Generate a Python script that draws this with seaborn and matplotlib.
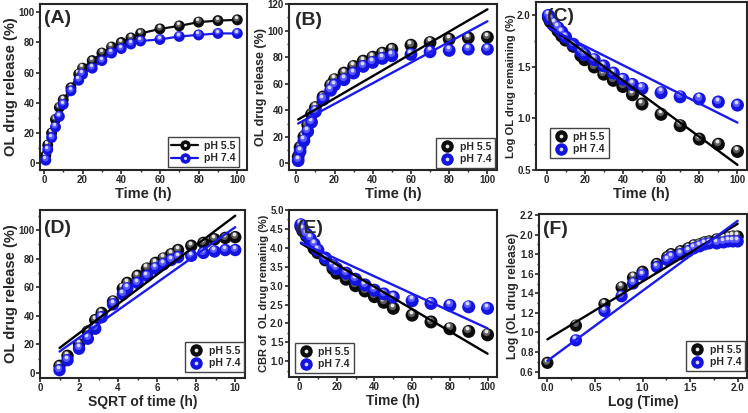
import matplotlib
matplotlib.use("Agg")
import matplotlib.pyplot as plt
import seaborn as sns
from matplotlib.lines import Line2D
from matplotlib.legend_handler import HandlerTuple
from matplotlib.ticker import AutoMinorLocator, MultipleLocator
from matplotlib.transforms import offset_copy

# release data
time_h = [1, 2, 4, 6, 8, 10, 14, 18, 20, 25, 30, 35, 40, 45, 50, 60, 70, 80, 90, 100]
sqrt_time = [1, 1.41, 2, 2.45, 2.83, 3.16, 3.74, 4.24, 4.47, 5, 5.48, 5.92, 6.32, 6.71,
             7.07, 7.75, 8.37, 8.94, 9.49, 10]
log_time = [0, 0.30, 0.60, 0.78, 0.90, 1.0, 1.15, 1.26, 1.30, 1.40, 1.48, 1.54, 1.60, 1.65,
            1.70, 1.78, 1.85, 1.90, 1.95, 2.0]

rel_55 = [5, 12, 20, 29, 37, 42, 50, 59, 63, 68, 73, 77, 80, 83, 86, 89, 91, 93.5, 94.5, 95]
rel_74 = [2, 9, 17, 24, 31, 39, 48, 55, 59, 63, 68, 73, 76, 79, 81, 82, 84, 85, 86, 86]

logrem_55 = [1.98, 1.94, 1.90, 1.85, 1.80, 1.76, 1.70, 1.61, 1.57, 1.50, 1.43, 1.37, 1.31,
             1.23, 1.14, 1.04, 0.93, 0.80, 0.75, 0.68]
logrem_74 = [2.0, 1.96, 1.92, 1.88, 1.84, 1.79, 1.72, 1.65, 1.62, 1.57, 1.51, 1.44, 1.38,
             1.33, 1.29, 1.25, 1.21, 1.19, 1.16, 1.13]

cbr_55 = [4.56, 4.45, 4.31, 4.14, 3.98, 3.87, 3.68, 3.45, 3.33, 3.17, 3.0, 2.86, 2.71, 2.56,
          2.40, 2.22, 2.04, 1.86, 1.79, 1.70]
cbr_74 = [4.61, 4.50, 4.36, 4.24, 4.10, 3.94, 3.73, 3.53, 3.45, 3.33, 3.17, 3.02, 2.88, 2.78,
          2.70, 2.60, 2.53, 2.48, 2.44, 2.40]

logrel_55 = [0.69, 1.07, 1.29, 1.46, 1.56, 1.62, 1.70, 1.77, 1.80, 1.83, 1.86, 1.89, 1.90,
             1.92, 1.93, 1.95, 1.96, 1.97, 1.98, 1.98]
logrel_74 = [0.30, 0.92, 1.22, 1.37, 1.50, 1.59, 1.67, 1.74, 1.77, 1.80, 1.83, 1.86, 1.88,
             1.90, 1.91, 1.91, 1.92, 1.93, 1.93, 1.93]

# fitted lines (end points)
fit_b_x, fit_b_55, fit_b_74 = [1, 100], [33, 116], [30, 107]
fit_c_x, fit_c_55, fit_c_74 = [1, 100], [1.90, 0.55], [1.88, 0.96]
fit_d_x, fit_d_55, fit_d_74 = [1, 10], [17.5, 110], [15, 102]
fit_e_x, fit_e_55, fit_e_74 = [1, 100], [4.12, 1.20], [4.14, 1.87]
fit_f_x, fit_f_55, fit_f_74 = [0, 2.0], [0.93, 2.11], [0.71, 2.14]

labels = ["pH 5.5", "pH 7.4"]

sns.set_style("ticks")
plt.rcParams["font.family"] = ["Liberation Sans", "DejaVu Sans"]
plt.rcParams["font.weight"] = "bold"
plt.rcParams["axes.labelweight"] = "bold"
plt.rcParams["axes.linewidth"] = 1.5
plt.rcParams["xtick.direction"] = "out"
plt.rcParams["ytick.direction"] = "out"

BLACK = ("#0c0c0c", "#5c5c5c", "#e6e6e6")
BLUE = ("#1414e0", "#5858ff", "#d6d6ff")
LINE_BLUE = "#1a1aee"

fig = plt.figure(figsize=(7.48, 4.13), dpi=100)


def rect(l, r, t, b):
    return [l / 748, 1 - b / 413, (r - l) / 748, (b - t) / 413]


def balls(ax, x, y, cols, size, z):
    sns.scatterplot(x=x, y=y, ax=ax, color=cols[0], s=size, edgecolor="none",
                    linewidth=0, zorder=z, legend=False)
    d = size ** 0.5
    t1 = offset_copy(ax.transData, fig=fig, x=-0.1 * d, y=0.18 * d, units="points")
    ax.scatter(x, y, s=size * 0.32, color=cols[1], linewidths=0, transform=t1, zorder=z + 0.1)
    t2 = offset_copy(ax.transData, fig=fig, x=-0.12 * d, y=0.26 * d, units="points")
    ax.scatter(x, y, s=size * 0.09, color=cols[2], linewidths=0, transform=t2, zorder=z + 0.2)


def handle(cols, ms, line):
    base = Line2D([], [], color=cols[0], marker="o", markersize=ms, markeredgewidth=0,
                  linestyle="-" if line else "none", linewidth=1.6)
    hi = Line2D([], [], color=cols[2], marker="o", markersize=ms * 0.3,
                markeredgewidth=0, linestyle="none")
    return (base, hi)


def style(ax, xlim, ylim, xstep, ystep, xlabel, ylabel, xl_fs, yl_fs, tick_fs, tag, tag_pos):
    ax.set_xlim(*xlim)
    ax.set_ylim(*ylim)
    ax.xaxis.set_major_locator(MultipleLocator(xstep))
    ax.yaxis.set_major_locator(MultipleLocator(ystep))
    ax.xaxis.set_minor_locator(AutoMinorLocator(2))
    ax.yaxis.set_minor_locator(AutoMinorLocator(2))
    ax.tick_params(which="major", length=2.6, width=1.2, labelsize=tick_fs, pad=1.2)
    ax.tick_params(which="minor", length=1.6, width=1.0)
    ax.set_xlabel(xlabel, fontsize=xl_fs, labelpad=1)
    ax.set_ylabel(ylabel, fontsize=yl_fs, labelpad=0.5)
    for s in ax.spines.values():
        s.set_linewidth(1.5)
    ax.text(tag_pos[0], tag_pos[1], tag, transform=ax.transAxes, ha="left", va="top",
            fontsize=14, fontweight="bold", zorder=10)


def legend(ax, ms, line, loc, anchor):
    ax.legend(handles=[handle(BLACK, ms, line), handle(BLUE, ms, line)], labels=labels,
              handler_map={tuple: HandlerTuple(ndivide=1, pad=0)}, loc=loc,
              bbox_to_anchor=anchor, borderaxespad=0, frameon=True,
              fancybox=False, edgecolor="#444444", framealpha=1,
              handlelength=2.6 if line else 1.4, handletextpad=0.5, borderpad=0.35,
              labelspacing=0.25, prop={"weight": "bold", "size": 7.5})


# (A) release profile
ax = fig.add_axes(rect(40, 247, 4, 170))
sns.lineplot(x=time_h, y=rel_55, ax=ax, color=BLACK[0], linewidth=1.6, zorder=2)
sns.lineplot(x=time_h, y=rel_74, ax=ax, color=LINE_BLUE, linewidth=1.6, zorder=2)
balls(ax, time_h, rel_55, BLACK, 62, 3)
balls(ax, time_h, rel_74, BLUE, 62, 4)
style(ax, (-2, 105), (-4.5, 105.5), 20, 20, "Time (h)", "OL drug release (%)",
      10.5, 10.5, 7, "(A)", (0.02, 0.965))
legend(ax, 7.5, True, "lower right", (0.96, 0.018))

# (B) zero order
ax = fig.add_axes(rect(289, 497, 4, 170))
balls(ax, time_h, rel_55, BLACK, 85, 3)
balls(ax, time_h, rel_74, BLUE, 85, 4)
sns.lineplot(x=fit_b_x, y=fit_b_55, ax=ax, color="black", linewidth=1.7, zorder=6)
sns.lineplot(x=fit_b_x, y=fit_b_74, ax=ax, color=LINE_BLUE, linewidth=1.7, zorder=6)
style(ax, (-3.8, 105), (-5, 120), 20, 20, "Time (h)", "OL drug release (%)",
      10.5, 9, 7, "(B)", (0.03, 0.95))
legend(ax, 9, False, "lower right", (0.99, 0.012))

# (C) first order
ax = fig.add_axes(rect(536, 747, 2, 170))
balls(ax, time_h, logrem_55, BLACK, 88, 3)
balls(ax, time_h, logrem_74, BLUE, 88, 4)
sns.lineplot(x=fit_c_x, y=fit_c_55, ax=ax, color="black", linewidth=1.7, zorder=6)
sns.lineplot(x=fit_c_x, y=fit_c_74, ax=ax, color=LINE_BLUE, linewidth=1.7, zorder=6)
style(ax, (-5.5, 105), (0.5, 2.13), 20, 0.5, "Time (h)", "Log OL drug remaining (%)",
      10.5, 8, 7, "(C)", (0.05, 0.965))
legend(ax, 9, False, "lower left", (0.066, 0.071))

# (D) Higuchi
ax = fig.add_axes(rect(40, 245, 210, 378))
balls(ax, sqrt_time, rel_55, BLACK, 80, 3)
balls(ax, sqrt_time, rel_74, BLUE, 80, 4)
sns.lineplot(x=fit_d_x, y=fit_d_55, ax=ax, color="black", linewidth=1.7, zorder=6)
sns.lineplot(x=fit_d_x, y=fit_d_74, ax=ax, color=LINE_BLUE, linewidth=1.7, zorder=6)
style(ax, (0, 10.5), (-3.5, 114), 2, 20, "SQRT of time (h)", "OL drug release (%)",
      10, 10.5, 7, "(D)", (0.02, 0.94))
legend(ax, 9, False, "lower right", (0.995, 0.036))

# (E) Hixson-Crowell
ax = fig.add_axes(rect(289, 497, 210, 377))
balls(ax, time_h, cbr_55, BLACK, 88, 3)
balls(ax, time_h, cbr_74, BLUE, 88, 4)
sns.lineplot(x=fit_e_x, y=fit_e_55, ax=ax, color="black", linewidth=1.7, zorder=6)
sns.lineplot(x=fit_e_x, y=fit_e_74, ax=ax, color=LINE_BLUE, linewidth=1.7, zorder=6)
style(ax, (-5.3, 105), (0.585, 5.0), 20, 0.5, "Time (h)", "CBR of  OL drug remainig (%)",
      10, 8, 7, "(E)", (0.04, 0.94))
legend(ax, 9, False, "lower left", (0.029, 0.024))

# (F) Korsmeyer-Peppas
ax = fig.add_axes(rect(539, 747, 214, 378))
balls(ax, log_time, logrel_55, BLACK, 78, 3)
balls(ax, log_time, logrel_74, BLUE, 78, 4)
sns.lineplot(x=fit_f_x, y=fit_f_55, ax=ax, color="black", linewidth=1.7, zorder=6)
sns.lineplot(x=fit_f_x, y=fit_f_74, ax=ax, color=LINE_BLUE, linewidth=1.7, zorder=6)
style(ax, (-0.088, 2.098), (0.535, 2.21), 0.5, 0.2, "Log (Time)", "Log (OL drug release)",
      10, 8.7, 7, "(F)", (0.02, 0.96))
legend(ax, 9, False, "lower right", (0.99, 0.042))

fig.savefig("out.png", dpi=100)
